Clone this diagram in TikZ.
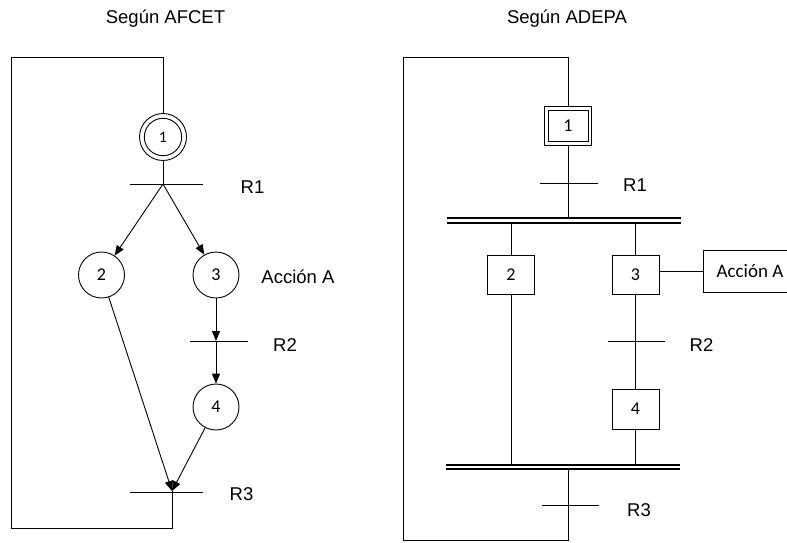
\documentclass[tikz,border=0pt]{standalone}
\usepackage{fontspec}
\setmainfont{Liberation Sans}
\newfontfamily\calib{Carlito}
\usetikzlibrary{arrows.meta}
\begin{document}
\begin{tikzpicture}[x=1pt,y=-1pt,
  line width=0.9pt,
  lbl/.style={inner sep=0pt, anchor=base, font=\fontsize{18.5}{20}\selectfont},
  stepc/.style={circle, draw, minimum size=46pt, inner sep=0pt, font=\calib\fontsize{18}{20}\selectfont},
  stepb/.style={rectangle, draw, minimum width=47pt, minimum height=39pt, inner sep=0pt, font=\calib\fontsize{18}{20}\selectfont},
  arr/.style={-{Triangle[length=10pt,width=8pt]}},
  syncbar/.style={double, double distance=2.6pt, line width=1.8pt},
]
\useasboundingbox (0,0) rectangle (787,542);
\clip (0,0) rectangle (787,542);

% ---------- titles ----------
\node[lbl] (tA) at (165.5,23) {Según AFCET};
\node[lbl] (tB) at (567,23) {Según ADEPA};

% ---------- AFCET grafcet ----------
\node[stepc, minimum size=47pt, font=\calib\fontsize{16}{18}\selectfont] (s1) at (163,137) {1};
\draw (s1.center) circle[radius=18.7];
\coordinate (t1) at (163,184);
\node[stepc] (s2) at (101.5,275) {2};
\node[stepc] (s3) at (216,275) {3};
\coordinate (t2) at (216,341);
\node[stepc] (s4) at (216,407) {4};
\coordinate (t3) at (172,491);
\coordinate (c1) at (163,57);
\coordinate (c2) at (11,57);
\coordinate (c3) at (11,528);
\coordinate (c4) at (172,528);

\draw (s1.south) -- (t1);
\draw ([xshift=-33pt]t1) -- ([xshift=40pt]t1);
\draw[arr] (t1) -- (s2);
\draw[arr] (t1) -- (s3);
\draw[arr] (s3) -- (t2);
\draw ([xshift=-26pt]t2) -- ([xshift=32pt]t2);
\draw[arr] (t2) -- (s4);
\draw[arr] (s2) -- (t3);
\draw[arr] (s4) -- (t3);
\draw ([xshift=-42pt,yshift=-1.5pt]t3) -- ([xshift=31pt,yshift=-1.5pt]t3);
\draw (t3) -- (c4) -- (c3) -- (c2) -- (c1) -- (s1.north);

\node[lbl] (r1a) at (252.5,193) {R1};
\node[lbl] (aca) at (298,283) {Acción A};
\node[lbl] (r2a) at (285,351) {R2};
\node[lbl] (r3a) at (241.5,500) {R3};

% ---------- ADEPA grafcet ----------
\node[stepb] (b1) at (568,125.5) {1};
\node[draw, minimum width=40pt, minimum height=31pt, inner sep=0pt] (b1i) at (b1.center) {};
\coordinate (u1) at (568,183);
\coordinate (j1l) at (447,220.5);
\coordinate (j1r) at (681,220.5);
\node[stepb] (b2) at (511,274.5) {2};
\node[stepb] (b3) at (635.5,274.5) {3};
\node[draw, minimum width=94pt, minimum height=42pt, inner sep=0pt,
      font=\calib\fontsize{19}{21}\selectfont] (act) at (750,271) {Acción A};
\coordinate (u2) at (635.5,341);
\node[stepb, minimum height=40pt] (b4) at (635.5,409) {4};
\coordinate (j2l) at (446,467);
\coordinate (j2r) at (680,467);
\coordinate (u3) at (568,505);
\coordinate (d1) at (568,57);
\coordinate (d2) at (403,57);
\coordinate (d3) at (403,540);
\coordinate (d4) at (568,540);

\draw (b1.north) -- (d1) -- (d2) -- (d3) -- (d4) -- (d4 |- j2l);
\draw (b1.south) -- (b1.south |- j1l);
\draw ([xshift=-28pt]u1) -- ([xshift=30pt]u1);
\draw (b2.north) -- (b2.north |- j1l);
\draw (b3.north) -- (b3.north |- j1l);
\draw (b3.east |- act.west) -- (act.west);
\draw (b3.south) -- (b4.north);
\draw ([xshift=-28pt]u2) -- ([xshift=29pt]u2);
\draw (b2.south) -- (b2.south |- j2l);
\draw (b4.south) -- (b4.south |- j2l);
\draw ([xshift=-26pt]u3) -- ([xshift=31pt]u3);
\draw[syncbar] (j1l) -- (j1r);
\draw[syncbar] (j2l) -- (j2r);

\node[lbl] (r1b) at (635,191) {R1};
\node[lbl] (r2b) at (701.5,351) {R2};
\node[lbl] (r3b) at (639,516) {R3};
\end{tikzpicture}
\end{document}
